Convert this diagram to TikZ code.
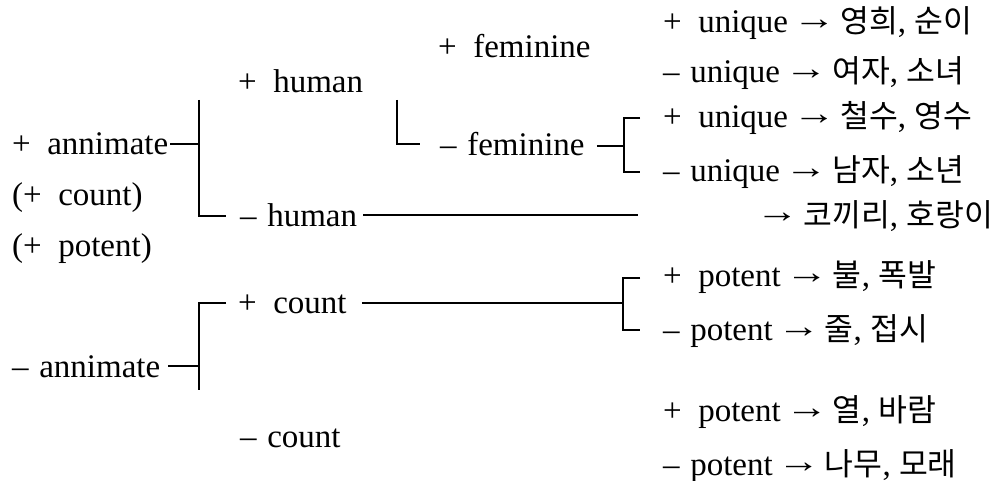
\documentclass[tikz,border=0pt]{standalone}
\usepackage{fontspec}
\setmainfont{Liberation Serif}
\newfontfamily\kr[Scale=0.95]{Noto Sans CJK KR}
\newcommand\hg[1]{{\kr #1}}
\newcommand\arr{\hspace{0.14em}\raisebox{3pt}{\scalebox{1.3}[1]{→}}\hspace{0.14em}}
\newcommand\mn{–\hspace{0.32em}}

\begin{document}
\begin{tikzpicture}[x=1pt,y=-1pt,
  every node/.style={font=\fontsize{33}{40}\selectfont, inner sep=2pt, anchor=base west},
  br/.style={line width=1.6pt}]
\useasboundingbox (0,0) rectangle (996,481);
% left column
\node (pann) at (10,155) {+~~annimate};
\node (pcnt) at (10,206) {(+~~count)};
\node (ppot) at (10,256) {(+~~potent)};
\node (mann) at (10,377) {\mn annimate};
% second column
\node (phum) at (236,93) {+~~human};
\node (mhum) at (238,226) {\mn human};
\node (pcou) at (236,313) {+~~count};
\node (mcou) at (238,447) {\mn count};
% third column
\node (pfem) at (436,58) {+~~feminine};
\node (mfem) at (438,156) {\mn feminine};
% right column
\node (u1) at (661,33) {+~~unique\arr\hg{영희}, \hg{순이}};
\node (u2) at (661,83) {\mn unique\arr\hg{여자}, \hg{소녀}};
\node (u3) at (661,128) {+~~unique\arr\hg{철수}, \hg{영수}};
\node (u4) at (661,182) {\mn unique\arr\hg{남자}, \hg{소년}};
\node (ele) at (749,226) {\arr\hg{코끼리}, \hg{호랑이}};
\node (p1) at (661,287) {+~~potent\arr\hg{불}, \hg{폭발}};
\node (p2) at (661,340) {\mn potent\arr\hg{줄}, \hg{접시}};
\node (p3) at (661,421) {+~~potent\arr\hg{열}, \hg{바람}};
\node (p4) at (661,475) {\mn potent\arr\hg{나무}, \hg{모래}};
% bracket corners
\coordinate (a1) at (199,144);
\coordinate (a1t) at (199,100);
\coordinate (a1b) at (199,216);
\coordinate (a1e) at (226,216);
\coordinate (f1t) at (397,100);
\coordinate (f1b) at (397,144);
\coordinate (f1e) at (420,144);
\coordinate (g1) at (624,146);
\coordinate (g1t) at (640,118);
\coordinate (g1b) at (640,172);
\coordinate (h1) at (638,215);
\coordinate (a2) at (199,366);
\coordinate (a2t) at (226,303);
\coordinate (a2b) at (199,390);
\coordinate (c1) at (623,303);
\coordinate (c1t) at (640,278);
\coordinate (c1b) at (640,330);
% connectors
\draw[br] (pann.east |- a1) -- (a1);
\draw[br] (a1t) -- (a1b) -- (a1e);
\draw[br] (f1t) -- (f1b) -- (f1e);
\draw[br] ([xshift=10pt]mfem.east |- g1) -- (g1);
\draw[br] (g1t) -| (g1) |- (g1b);
\draw[br] ([xshift=4pt]mhum.east |- h1) -- (h1);
\draw[br] ([xshift=6pt]mann.east |- a2) -- (a2);
\draw[br] (a2t) -| (a2b);
\draw[br] ([xshift=13pt]pcou.east |- c1) -- (c1);
\draw[br] (c1t) -| (c1) |- (c1b);
\end{tikzpicture}
\end{document}
